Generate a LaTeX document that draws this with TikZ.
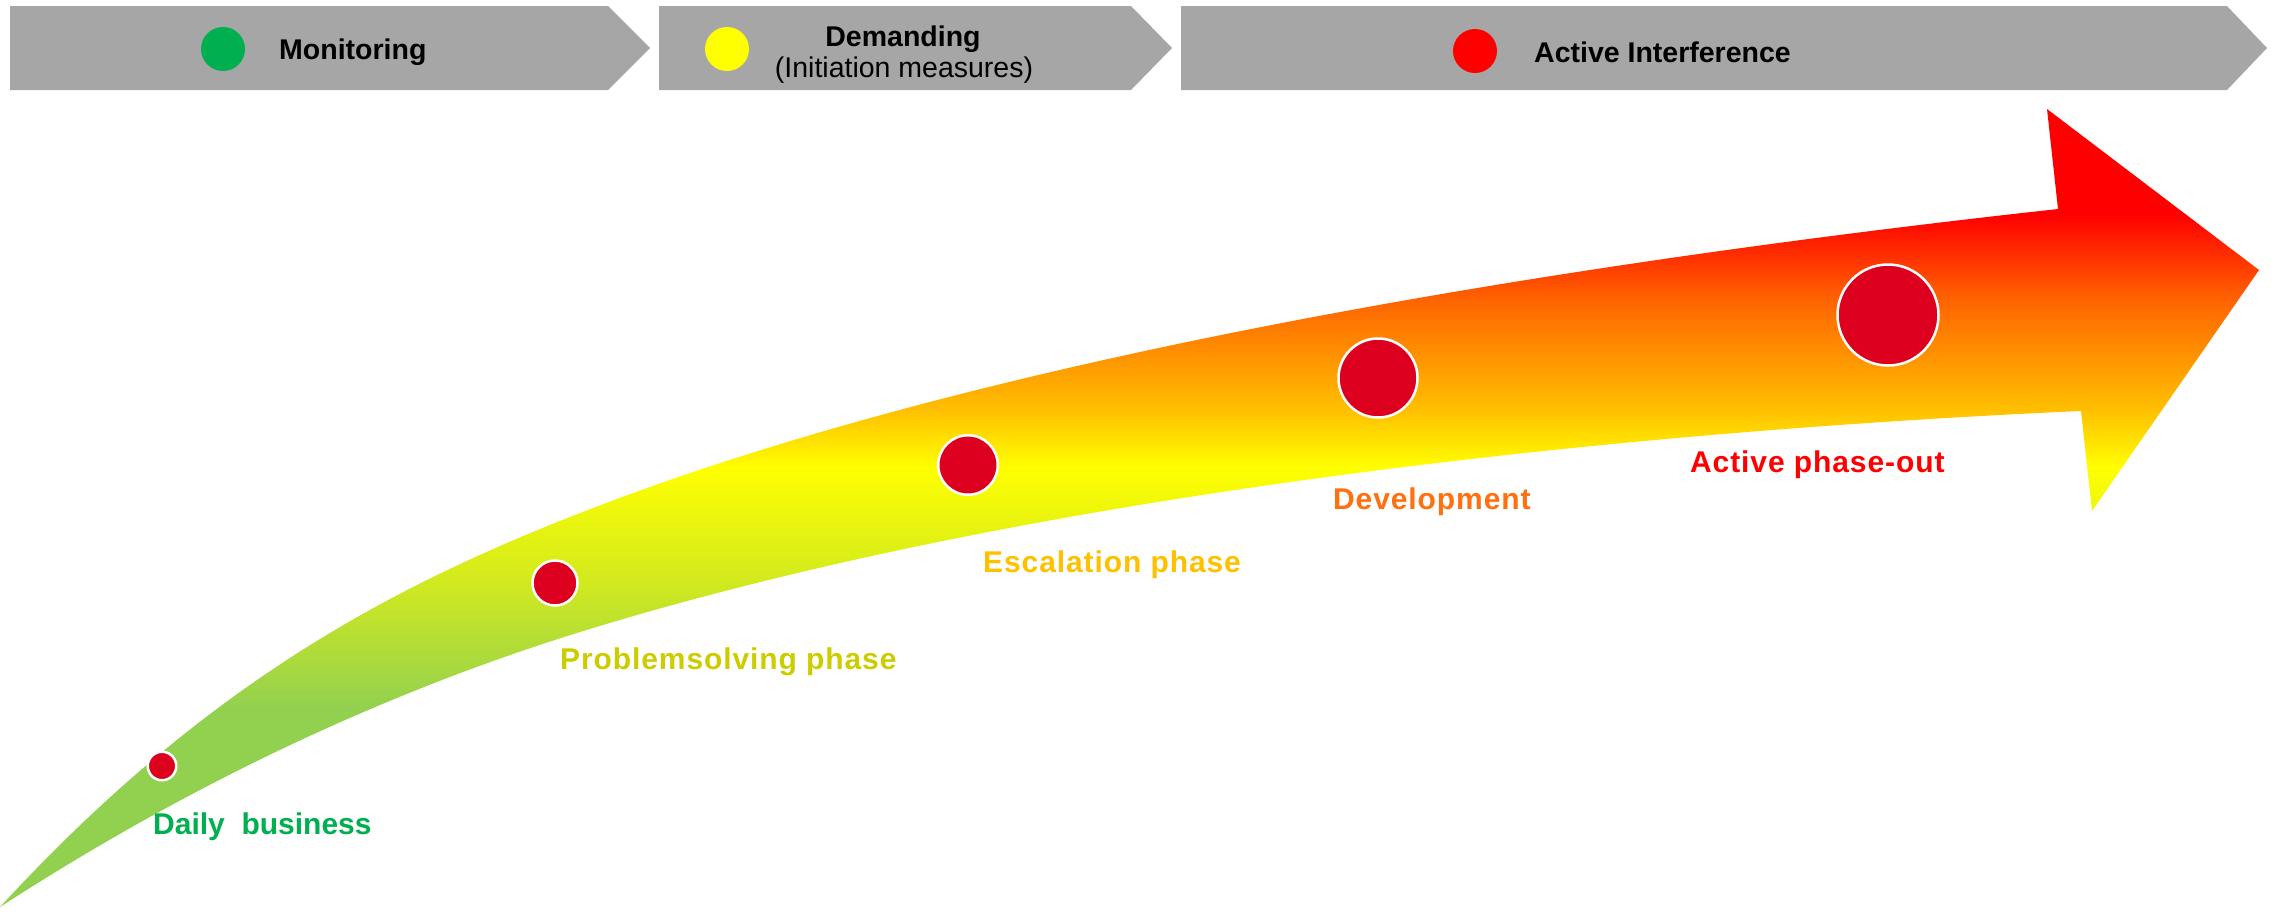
\documentclass[tikz,border=0pt]{standalone}
\usepackage{fontspec}
\setmainfont{Liberation Sans}
\newfontfamily\spacedfont[LetterSpace=3]{Liberation Sans}
\definecolor{bannergray}{RGB}{166,166,166}
\definecolor{cGreenDot}{RGB}{0,176,80}
\definecolor{cYellowDot}{RGB}{255,255,0}
\definecolor{cRedDot}{RGB}{255,0,0}
\definecolor{dotred}{RGB}{220,0,30}
\definecolor{gR}{RGB}{255,0,0}
\definecolor{gO}{RGB}{255,100,0}
\definecolor{gGold}{RGB}{255,192,0}
\definecolor{gY}{RGB}{255,255,0}
\definecolor{gYG}{RGB}{210,234,30}
\definecolor{gG}{RGB}{146,208,80}
\definecolor{lblGreen}{RGB}{0,176,80}
\definecolor{lblOlive}{RGB}{204,204,0}
\definecolor{lblGold}{RGB}{255,192,0}
\definecolor{lblOrange}{RGB}{255,112,16}
\definecolor{lblRed}{RGB}{255,0,0}
\pgfdeclareverticalshading{arrowgrad}{100bp}{color(0bp)=(gG); color(37.39bp)=(gG); color(45.41bp)=(gYG); color(52.37bp)=(gY); color(55.89bp)=(gGold); color(62.67bp)=(gO); color(67.91bp)=(gR); color(100bp)=(gR)}
\tikzset{
  banner/.style={fill=bannergray},
  legenddot/.style={circle, inner sep=0pt, minimum size=44pt},
  milestone/.style={circle, fill=dotred, draw=white, line width=2.5pt, inner sep=0pt},
  btxt/.style={font=\fontsize{28.5}{34}\selectfont, inner sep=0pt},
  bbtxt/.style={font=\fontsize{28.5}{34}\selectfont\bfseries, inner sep=0pt},
  lbl/.style={font=\fontsize{30}{36}\selectfont\bfseries, inner sep=0pt, anchor=base west},
  slbl/.style={font=\fontsize{30}{36}\spacedfont\bfseries, inner sep=0pt, anchor=base west}
}
\begin{document}
\begin{tikzpicture}[x=1pt,y=-1pt]
\useasboundingbox (0,0) rectangle (2271,911);
% banners
\fill[banner] (10,6) -- (608,6) -- (650,48) -- (608,90) -- (10,90) -- cycle;
\fill[banner] (659,6) -- (1131,6) -- (1172,48) -- (1131,90) -- (659,90) -- cycle;
\fill[banner] (1181,6) -- (2227,6) -- (2267,48) -- (2227,90) -- (1181,90) -- cycle;
\node[legenddot, fill=cGreenDot] (gdot) at (223,49) {};
\node[legenddot, fill=cYellowDot] (ydot) at (727,49) {};
\node[legenddot, fill=cRedDot] (rdot) at (1475,51) {};
\node[bbtxt, anchor=base west] (t1) at (279,59) {Monitoring};
\node[bbtxt, anchor=base] (t2) at (903,46) {Demanding};
\node[btxt, anchor=base] (t2b) at (904,77) {(Initiation measures)};
\node[bbtxt, anchor=base west] (t3) at (1534,62) {Active Interference};
% arrow
\begin{scope}
\clip (0,907) .. controls (200,690) and (380,591) .. (580,513)
  .. controls (1000,349) and (1608,258.5) .. (2058,209)
  -- (2047,109) -- (2259,270) -- (2092,511) -- (2081,411)
  .. controls (1581,433.5) and (1010,499) .. (580,632)
  .. controls (387,692) and (193,782) .. (0,907) -- cycle;
\shade[shading=arrowgrad] (0,100) rectangle (2271,911);
\end{scope}
% milestones
\node[milestone, minimum size=28.5pt] (m1) at (162,766) {};
\node[milestone, minimum size=45pt] (m2) at (555,583) {};
\node[milestone, minimum size=59.5pt] (m3) at (968,465) {};
\node[milestone, minimum size=79pt] (m4) at (1378,378) {};
\node[milestone, minimum size=101pt] (m5) at (1888,315) {};
% labels
\node[lbl, text=lblGreen] (l1) at (153,834) {Daily\ \ business};
\node[slbl, text=lblOlive] (l2) at (560,669) {Problemsolving phase};
\node[slbl, text=lblGold] (l3) at (983,572) {Escalation phase};
\node[slbl, text=lblOrange] (l4) at (1333,509) {Development};
\node[slbl, text=lblRed] (l5) at (1690,472) {Active phase-out};
\end{tikzpicture}
\end{document}
